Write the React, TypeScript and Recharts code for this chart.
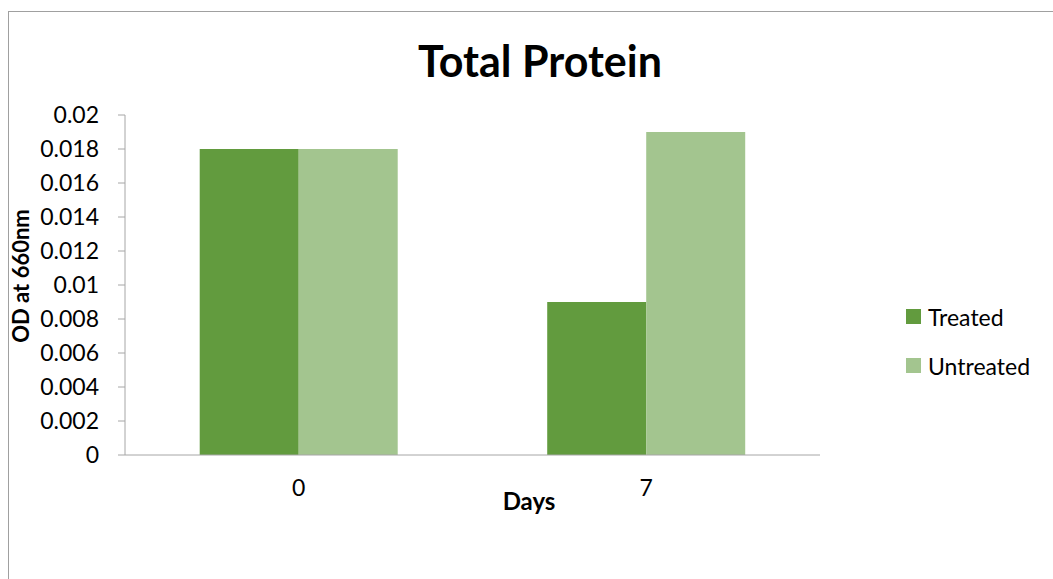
import { Bar, BarChart, Legend, XAxis, YAxis } from "recharts";

const days = ["0", "7"];
const treated = [0.018, 0.009];
const untreated = [0.018, 0.019];
const yTicks = [0, 0.002, 0.004, 0.006, 0.008, 0.01, 0.012, 0.014, 0.016, 0.018, 0.02];

const series = [
  { dataKey: "treated", label: "Treated", color: "#629b3e" },
  { dataKey: "untreated", label: "Untreated", color: "#a3c58f" },
];

const data = days.map((day, i) => ({ day, treated: treated[i], untreated: untreated[i] }));

const font = "Lato, 'Open Sans', sans-serif";
const axisGray = "#a6a6a6";

function LegendBox() {
  return (
    <div style={{ fontFamily: font, fontSize: 23, color: "#000" }}>
      {series.map((item) => (
        <div key={item.dataKey} style={{ display: "flex", alignItems: "center", height: 49 }}>
          <span style={{ width: 15, height: 15, background: item.color, marginRight: 7 }} />
          <span style={{ whiteSpace: "nowrap" }}>{item.label}</span>
        </div>
      ))}
    </div>
  );
}

export default function App() {
  return (
    <div style={{ position: "fixed", left: 0, top: 0, width: 1053, height: 579, overflow: "hidden", background: "#fff" }}>
      <div
        style={{
          position: "absolute",
          left: 8,
          top: 11,
          width: 1100,
          height: 620,
          border: "1px solid #a0a0a0",
          boxSizing: "border-box",
        }}
      >
        <div
          style={{
            position: "absolute",
            left: 331,
            top: 27,
            width: 400,
            textAlign: "center",
            fontFamily: font,
            fontWeight: 700,
            fontSize: 43,
            lineHeight: 1,
          }}
        >
          Total Protein
        </div>
        <div
          style={{
            position: "absolute",
            left: 12,
            top: 264,
            transform: "translate(-50%, -50%) rotate(-90deg)",
            whiteSpace: "nowrap",
            fontFamily: font,
            fontWeight: 700,
            fontSize: 22,
            lineHeight: 1,
          }}
        >
          OD at 660nm
        </div>
        <div
          style={{
            position: "absolute",
            left: 480,
            top: 477,
            width: 80,
            textAlign: "center",
            fontFamily: font,
            fontWeight: 700,
            fontSize: 24,
            lineHeight: 1,
          }}
        >
          Days
        </div>
        <BarChart
          width={1044}
          height={567}
          data={data}
          margin={{ top: 103, right: 233, left: 0, bottom: 64 }}
          barCategoryGap="21.5%"
          barGap={0}
        >
          <XAxis
            dataKey="day"
            stroke={axisGray}
            tickLine={false}
            tickSize={0}
            tickMargin={25}
            height={60}
            tick={{ fill: "#000", fontSize: 23, fontFamily: font }}
          />
          <YAxis
            width={116}
            domain={[0, 0.02]}
            ticks={yTicks}
            interval={0}
            stroke={axisGray}
            tickSize={7}
            tickMargin={19}
            tickFormatter={(v: number) => String(Number(v.toFixed(3)))}
            tick={{ fill: "#000", fontSize: 23, fontFamily: font }}
          />
          <Legend
            layout="horizontal"
            align="center"
            verticalAlign="middle"
            content={() => <LegendBox />}
            wrapperStyle={{ left: 897, top: 280, width: 150, height: 98 }}
          />
          {series.map((item) => (
            <Bar key={item.dataKey} dataKey={item.dataKey} fill={item.color} isAnimationActive={false} />
          ))}
        </BarChart>
      </div>
    </div>
  );
}
